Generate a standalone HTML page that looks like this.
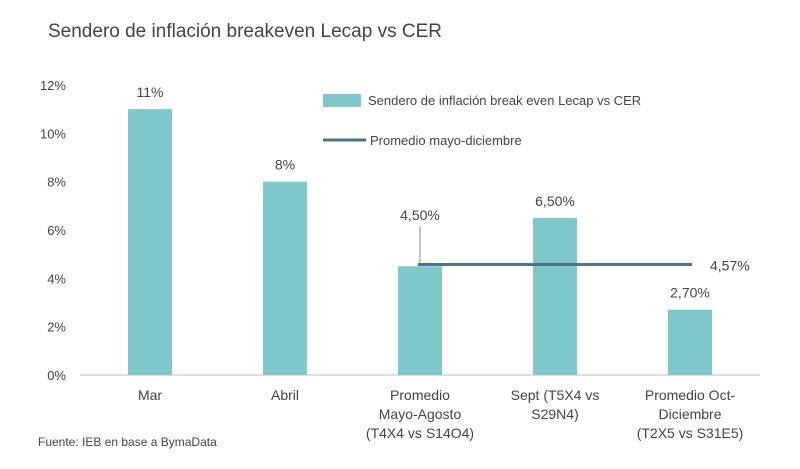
<!DOCTYPE html>
<html><head><meta charset="utf-8"><style>
body{margin:0;background:#fff;width:800px;height:464px;overflow:hidden;font-family:"Liberation Sans",sans-serif;}
svg text{font-family:"Liberation Sans",sans-serif;fill:#444;}
</style></head><body>
<svg id="chart" width="800" height="464">
<text x="48" y="37" font-size="19" fill="#555">Sendero de inflación breakeven Lecap vs CER</text>
<g id="yaxis"></g>
<g id="bars"></g>
<line x1="80" y1="375" x2="760" y2="375" stroke="#bbb" stroke-width="1"/>
<g id="xlabels"></g>
<g>
<rect x="323" y="94" width="38" height="13" fill="#7ec8cc"/>
<text x="368" y="105" font-size="13">Sendero de inflación break even Lecap vs CER</text>
<line x1="323" y1="140" x2="366" y2="140" stroke="#4a7585" stroke-width="3"/>
<text x="370" y="145" font-size="13">Promedio mayo-diciembre</text>
</g>
<text x="38" y="446" font-size="12" fill="#444">Fuente: IEB en base a BymaData</text>
</svg>
<script>
const categories=[["Mar"],["Abril"],["Promedio","Mayo-Agosto","(T4X4 vs S14O4)"],["Sept (T5X4 vs","S29N4)"],["Promedio Oct-","Diciembre","(T2X5 vs S31E5)"]];
const values=[11,8,4.5,6.5,2.7];
const valueLabels=["11%","8%","4,50%","6,50%","2,70%"];
const average=4.57;
const averageLabel="4,57%";
const yTicks=[0,2,4,6,8,10,12];
const yTickLabels=["0%","2%","4%","6%","8%","10%","12%"];
const NS="http://www.w3.org/2000/svg";
const y=v=>375-v*24.17;
const xc=i=>150+i*135;
function mk(tag,attrs,parent,txt){const e=document.createElementNS(NS,tag);for(const k in attrs)e.setAttribute(k,attrs[k]);if(txt!==undefined)e.textContent=txt;parent.appendChild(e);return e;}
const ya=document.getElementById('yaxis');
yTicks.forEach((t,i)=>{const e=mk('text',{x:66,y:y(t)+5,'font-size':13,'text-anchor':'end'},ya,yTickLabels[i]);

});
const bg=document.getElementById('bars');
values.forEach((v,i)=>{const r=mk('rect',{x:xc(i)-22,y:y(v),width:44,height:y(0)-y(v),fill:'#7ec8cc'},bg);


const ly=i===2?y(v)-46:y(v)-12;
const t=mk('text',{x:xc(i),y:ly,'font-size':14,'text-anchor':'middle'},bg,valueLabels[i]);

});
// leader for promedio
const ld=mk('line',{x1:xc(2),y1:y(values[2])-40,x2:xc(2),y2:y(average),stroke:'#888','stroke-width':1},bg);


const av=mk('line',{x1:xc(2)-2,y1:y(average),x2:xc(4)+2,y2:y(average),stroke:'#4a7585','stroke-width':3},bg);


const al=mk('text',{x:710,y:y(average)+6,'font-size':14},bg,averageLabel);


const xl=document.getElementById('xlabels');
categories.forEach((c,i)=>{c.forEach((line,j)=>{const t=mk('text',{x:xc(i),y:400+j*19,'font-size':14,'text-anchor':'middle'},xl,line);

});});
</script>
</body></html>
